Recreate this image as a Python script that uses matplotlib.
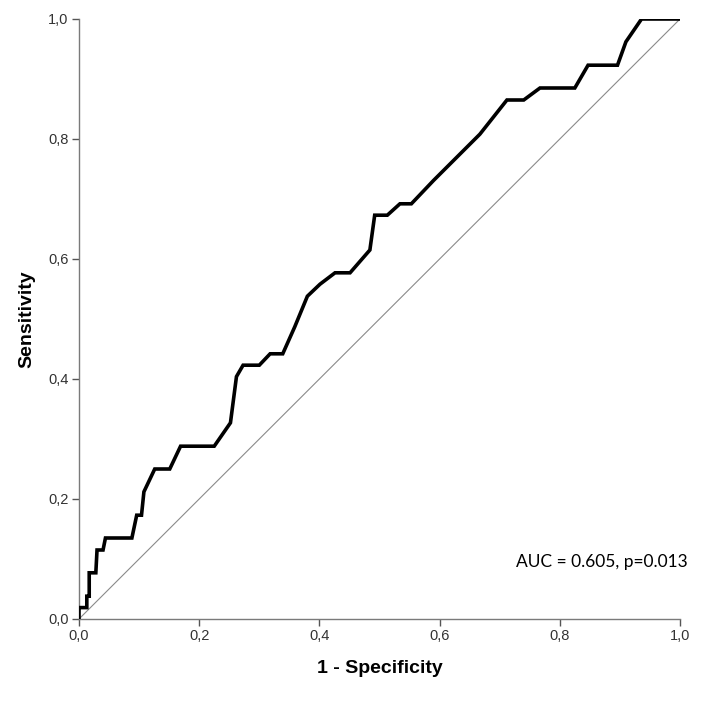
import matplotlib
matplotlib.use("Agg")
from matplotlib import pyplot as plt
from matplotlib.ticker import FuncFormatter

# ROC curve points (1 - specificity, sensitivity)
fpr = [0, 0, 0.013, 0.013, 0.017, 0.017, 0.028, 0.030, 0.040, 0.044,
       0.088, 0.096, 0.104, 0.108, 0.117, 0.126, 0.151, 0.160, 0.169, 0.225,
       0.252, 0.262, 0.273, 0.300, 0.318, 0.339, 0.359, 0.380, 0.401, 0.426, 0.451,
       0.484, 0.492, 0.513, 0.534, 0.553, 0.590, 0.628, 0.667, 0.712, 0.740,
       0.767, 0.825, 0.847, 0.896, 0.910, 0.936, 1.0]
tpr = [0, 0.019, 0.019, 0.038, 0.038, 0.077, 0.077, 0.115, 0.115, 0.135,
       0.135, 0.173, 0.173, 0.212, 0.231, 0.250, 0.250, 0.269, 0.288, 0.288,
       0.327, 0.404, 0.423, 0.423, 0.442, 0.442, 0.487, 0.538, 0.558, 0.577, 0.577,
       0.615, 0.673, 0.673, 0.692, 0.692, 0.731, 0.769, 0.808, 0.865, 0.865,
       0.885, 0.885, 0.923, 0.923, 0.962, 1.0, 1.0]
ref_line = [0, 1]
ticks = [0, 0.2, 0.4, 0.6, 0.8, 1.0]
annotation = "AUC = 0.605, p=0.013"

fig = plt.figure(figsize=(7.04, 7.17), dpi=100)
ax = fig.add_axes([79 / 704, 1 - 619 / 717, 601 / 704, 600 / 717])

ax.plot(ref_line, ref_line, color="#8a8a8a", linewidth=0.8, zorder=2)
ax.plot(fpr, tpr, color="black", linewidth=2.6, solid_joinstyle="miter", zorder=3)

ax.set_xlim(0, 1)
ax.set_ylim(0, 1)
ax.set_xticks(ticks)
ax.set_yticks(ticks)
comma = FuncFormatter(lambda v, p: f"{v:.1f}".replace(".", ","))
ax.xaxis.set_major_formatter(comma)
ax.yaxis.set_major_formatter(comma)

for side in ["top", "right"]:
    ax.spines[side].set_visible(False)
for side in ["left", "bottom"]:
    ax.spines[side].set_color("#7a7a7a")
    ax.spines[side].set_linewidth(1.0)
ax.tick_params(direction="out", length=5, width=1.0, color="#555555",
               labelsize=10.5, labelcolor="#333333", pad=2.5)
for lab in ax.get_xticklabels() + ax.get_yticklabels():
    lab.set_family("Liberation Sans")

ax.set_xlabel("1 - Specificity", fontsize=14, fontweight="bold",
              family="Liberation Sans", labelpad=12)
ax.set_ylabel("Sensitivity", fontsize=14, fontweight="bold",
              family="Liberation Sans", labelpad=9)

ax.text(1.013, 0.095, annotation, fontsize=12.5, family="Lato",
        ha="right", va="center", transform=ax.transAxes)

fig.savefig("out.png", dpi=100, facecolor="white")
